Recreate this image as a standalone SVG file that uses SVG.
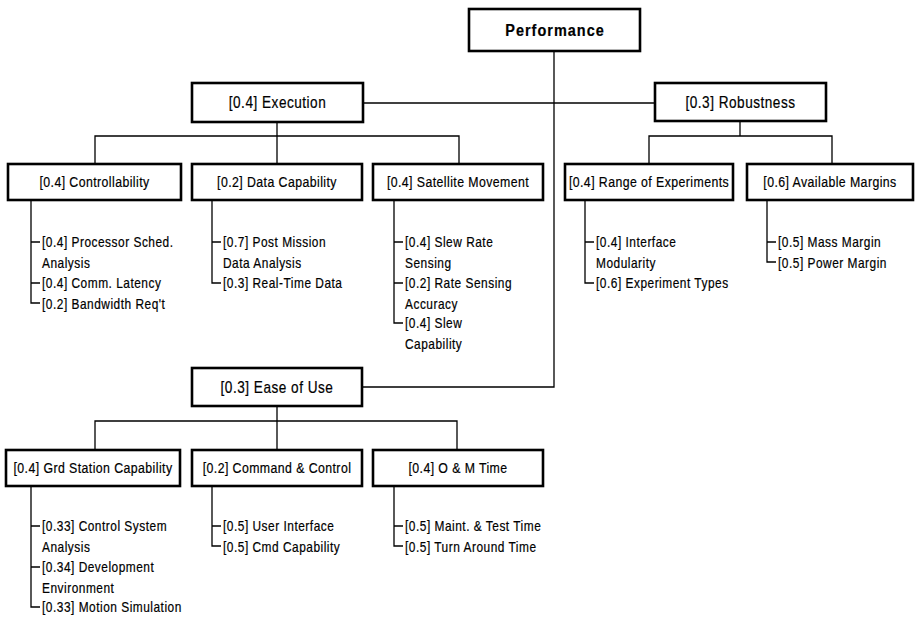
<svg xmlns="http://www.w3.org/2000/svg" width="915" height="624" viewBox="0 0 915 624">
  <style>
    .box { fill: #fff; stroke: #000; stroke-width: 2.6; }
    .wire { fill: none; stroke: #000; stroke-width: 1.3; }
    /* labels use a horizontally condensed sans */
    text { font-family: "Liberation Sans", Arial, sans-serif; fill: #000; stroke: #000; stroke-width: 0.2; }
    .top { font-size: 17px; font-weight: bold; letter-spacing: 1.2px; text-anchor: middle; }
    .l1 { font-size: 16px; letter-spacing: 0.6px; text-anchor: middle; }
    .l2 { font-size: 14.5px; letter-spacing: 0.5px; text-anchor: middle; }
    .leaf { font-size: 14px; letter-spacing: 0.6px; }
  </style>

  <!-- connectors -->
  <g id="connectors" class="wire">
    <!-- root trunk down to Ease of Use -->
    <path d="M554 51 V387 H362"/>
    <!-- Execution to Robustness -->
    <path d="M363 103 H655"/>
    <!-- Execution bus -->
    <path d="M277 122 V136 M95 164 V136 H459 V164 M277 136 V164"/>
    <!-- Robustness bus -->
    <path d="M740 121 V136 M649 164 V136 H832 V164"/>
    <!-- Ease of Use bus -->
    <path d="M277 406 V421 M95 450 V421 H457 V450 M277 421 V450"/>
    <!-- leaf brackets -->
    <path d="M31 200 V303 H40 M31 242 H40 M31 283 H40"/>
    <path d="M212 200 V283 H221 M212 242 H221"/>
    <path d="M394 200 V323 H403 M394 242 H403 M394 283 H403"/>
    <path d="M585 200 V283 H594 M585 242 H594"/>
    <path d="M767 200 V262 H776 M767 242 H776"/>
    <path d="M31 486 V607 H40 M31 526 H40 M31 567 H40"/>
    <path d="M212 486 V546 H221 M212 526 H221"/>
    <path d="M394 486 V546 H403 M394 526 H403"/>
  </g>

  <g id="performance">
    <rect class="box" x="469" y="9" width="171" height="42"/>
    <text class="top" transform="translate(555 36) scale(0.85 1)">Performance</text>
  </g>

  <g id="execution">
    <rect class="box" x="192" y="83" width="171" height="39"/>
    <text class="l1" transform="translate(277.5 108) scale(0.85 1)">[0.4] Execution</text>
  </g>
  <g id="robustness">
    <rect class="box" x="655" y="83" width="171" height="38"/>
    <text class="l1" transform="translate(740.5 107.5) scale(0.85 1)">[0.3] Robustness</text>
  </g>
  <g id="ease-of-use">
    <rect class="box" x="192" y="368" width="170" height="38"/>
    <text class="l1" transform="translate(277 392.5) scale(0.85 1)">[0.3] Ease of Use</text>
  </g>

  <g id="controllability">
    <rect class="box" x="8" y="164" width="173" height="36"/>
    <text class="l2" transform="translate(94.5 187) scale(0.85 1)">[0.4] Controllability</text>
    <text class="leaf" transform="translate(42 247) scale(0.85 1)">[0.4] Processor Sched.</text>
    <text class="leaf" transform="translate(42 267.5) scale(0.85 1)">Analysis</text>
    <text class="leaf" transform="translate(42 288) scale(0.85 1)">[0.4] Comm. Latency</text>
    <text class="leaf" transform="translate(42 308.5) scale(0.85 1)">[0.2] Bandwidth Req't</text>
  </g>
  <g id="data-capability">
    <rect class="box" x="192" y="164" width="170" height="36"/>
    <text class="l2" transform="translate(277 187) scale(0.85 1)">[0.2] Data Capability</text>
    <text class="leaf" transform="translate(223 247) scale(0.85 1)">[0.7] Post Mission</text>
    <text class="leaf" transform="translate(223 267.5) scale(0.85 1)">Data Analysis</text>
    <text class="leaf" transform="translate(223 288) scale(0.85 1)">[0.3] Real-Time Data</text>
  </g>
  <g id="satellite-movement">
    <rect class="box" x="373" y="164" width="170" height="36"/>
    <text class="l2" transform="translate(458 187) scale(0.85 1)">[0.4] Satellite Movement</text>
    <text class="leaf" transform="translate(405 247) scale(0.85 1)">[0.4] Slew Rate</text>
    <text class="leaf" transform="translate(405 267.5) scale(0.85 1)">Sensing</text>
    <text class="leaf" transform="translate(405 288) scale(0.85 1)">[0.2] Rate Sensing</text>
    <text class="leaf" transform="translate(405 308.5) scale(0.85 1)">Accuracy</text>
    <text class="leaf" transform="translate(405 328) scale(0.85 1)">[0.4] Slew</text>
    <text class="leaf" transform="translate(405 348.5) scale(0.85 1)">Capability</text>
  </g>
  <g id="range-of-experiments">
    <rect class="box" x="565" y="164" width="168" height="36"/>
    <text class="l2" transform="translate(649 187) scale(0.85 1)">[0.4] Range of Experiments</text>
    <text class="leaf" transform="translate(596 247) scale(0.85 1)">[0.4] Interface</text>
    <text class="leaf" transform="translate(596 267.5) scale(0.85 1)">Modularity</text>
    <text class="leaf" transform="translate(596 288) scale(0.85 1)">[0.6] Experiment Types</text>
  </g>
  <g id="available-margins">
    <rect class="box" x="747" y="164" width="166" height="36"/>
    <text class="l2" transform="translate(830 187) scale(0.85 1)">[0.6] Available Margins</text>
    <text class="leaf" transform="translate(778 247) scale(0.85 1)">[0.5] Mass Margin</text>
    <text class="leaf" transform="translate(778 267.5) scale(0.85 1)">[0.5] Power Margin</text>
  </g>

  <g id="grd-station-capability">
    <rect class="box" x="6" y="450" width="174" height="36"/>
    <text class="l2" transform="translate(93 473) scale(0.85 1)">[0.4] Grd Station Capability</text>
    <text class="leaf" transform="translate(42 531) scale(0.85 1)">[0.33] Control System</text>
    <text class="leaf" transform="translate(42 551.5) scale(0.85 1)">Analysis</text>
    <text class="leaf" transform="translate(42 572) scale(0.85 1)">[0.34] Development</text>
    <text class="leaf" transform="translate(42 592.5) scale(0.85 1)">Environment</text>
    <text class="leaf" transform="translate(42 612) scale(0.85 1)">[0.33] Motion Simulation</text>
  </g>
  <g id="command-control">
    <rect class="box" x="192" y="450" width="170" height="36"/>
    <text class="l2" transform="translate(277 473) scale(0.85 1)">[0.2] Command &amp; Control</text>
    <text class="leaf" transform="translate(223 531) scale(0.85 1)">[0.5] User Interface</text>
    <text class="leaf" transform="translate(223 551.5) scale(0.85 1)">[0.5] Cmd Capability</text>
  </g>
  <g id="om-time">
    <rect class="box" x="373" y="450" width="170" height="36"/>
    <text class="l2" transform="translate(458 473) scale(0.85 1)">[0.4] O &amp; M Time</text>
    <text class="leaf" transform="translate(405 531) scale(0.85 1)">[0.5] Maint. &amp; Test Time</text>
    <text class="leaf" transform="translate(405 551.5) scale(0.85 1)">[0.5] Turn Around Time</text>
  </g>
</svg>
